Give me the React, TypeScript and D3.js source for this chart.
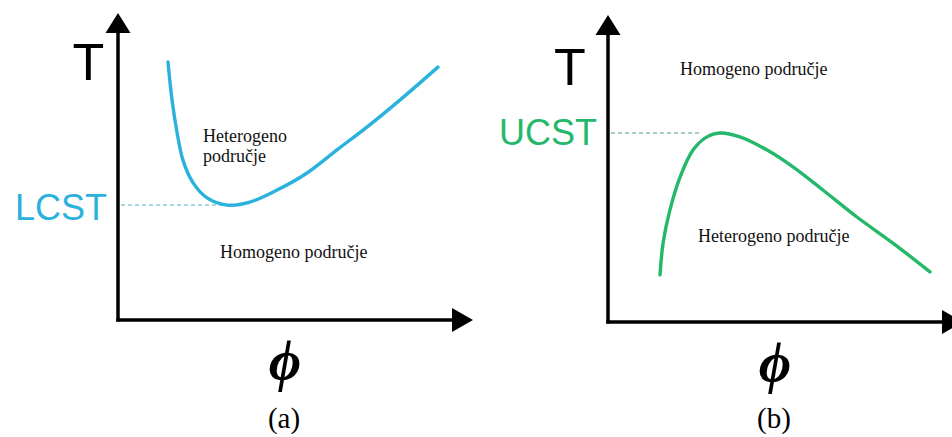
import React from "react";
import * as d3 from "d3";

// Panel (a): LCST curve, phi vs T (normalised 0..1)
const lcstPhi = [0.147, 0.159, 0.174, 0.191, 0.221, 0.262, 0.321, 0.388, 0.468, 0.556, 0.644, 0.732, 0.829, 0.941];
const lcstT = [0.86, 0.733, 0.623, 0.533, 0.457, 0.407, 0.383, 0.393, 0.433, 0.49, 0.567, 0.643, 0.733, 0.843];
const lcstValue = 0.383;
const lcstMinPhi = 0.33;

// Panel (b): UCST curve
const ucstPhi = [0.153, 0.162, 0.182, 0.212, 0.25, 0.291, 0.329, 0.388, 0.468, 0.544, 0.632, 0.732, 0.838, 0.947];
const ucstT = [0.157, 0.263, 0.373, 0.483, 0.573, 0.617, 0.63, 0.617, 0.573, 0.517, 0.44, 0.35, 0.263, 0.167];
const ucstValue = 0.63;
const ucstMaxPhi = 0.276;

const labelsA = { crit: "LCST", upper: ["Heterogeno", "područje"], lower: "Homogeno područje", tag: "(a)" };
const labelsB = { crit: "UCST", upper: ["Homogeno područje"], lower: "Heterogeno područje", tag: "(b)" };

const BLUE = "#2ab2dc";
const GREEN = "#25b86a";

type PanelProps = {
  x0: number;
  y0: number;
  phi: number[];
  t: number[];
  critT: number;
  critPhi: number;
  color: string;
  dashColor: string;
  labels: { crit: string; upper: string[]; lower: string; tag: string };
  variant: "a" | "b";
};

function Panel({ x0, y0, phi, t, critT, critPhi, color, dashColor, labels, variant }: PanelProps) {
  const x = d3.scaleLinear().domain([0, 1]).range([x0, x0 + 340]);
  const y = d3.scaleLinear().domain([0, 1]).range([y0, y0 - 300]);
  const pts: [number, number][] = phi.map((p, i) => [p, t[i]]);
  const line = d3
    .line<[number, number]>()
    .x((d) => x(d[0]))
    .y((d) => y(d[1]))
    .curve(d3.curveCatmullRom.alpha(0.5));
  const serif = "'Liberation Serif', 'Times New Roman', serif";
  const sans = "'Liberation Sans', Arial, sans-serif";
  const yTop = y0 - 307;
  const xEnd = x0 + 355;
  const tX = variant === "a" ? x0 - 29.5 : x0 - 38;
  const tY = variant === "a" ? y0 - 240 : y0 - 237;
  return (
    <g>
      {/* axes */}
      <line x1={x0} y1={y0 + 1.5} x2={x0} y2={yTop + 18} stroke="#000" strokeWidth={3.5} />
      <path d={`M${x0},${yTop} L${x0 - 12.5},${yTop + 20} L${x0 + 12.5},${yTop + 20} Z`} fill="#000" />
      <line x1={x0 - 1.75} y1={y0} x2={xEnd - 18} y2={y0} stroke="#000" strokeWidth={3.5} />
      <path d={`M${xEnd},${y0} L${xEnd - 21},${y0 - 12} L${xEnd - 21},${y0 + 12} Z`} fill="#000" />

      {/* dashed critical temperature */}
      <line
        x1={x0 + 3}
        y1={y(critT)}
        x2={x(critPhi)}
        y2={y(critT)}
        stroke={dashColor}
        strokeWidth={1.5}
        strokeDasharray="4,3"
      />
      {/* curve */}
      <path d={line(pts) ?? ""} fill="none" stroke={color} strokeWidth={3.4} strokeLinecap="round" />

      {/* axis labels */}
      <text x={tX} y={tY} fontFamily={sans} fontSize={52} textAnchor="middle" fill="#000">
        T
      </text>
      <text
        x={x0 + 167}
        y={y0 + 60}
        fontFamily={serif}
        fontSize={56}
        fontStyle="italic"
        fontWeight="bold"
        textAnchor="middle"
        fill="#000"
      >
        ϕ
      </text>
      <text x={x0 + 166} y={428} fontFamily={serif} fontSize={29} textAnchor="middle" fill="#000">
        {labels.tag}
      </text>

      {/* critical label */}
      <text
        x={x0 - 11}
        y={y(critT) + (variant === "a" ? 15 : 12)}
        fontFamily={sans}
        fontSize={36}
        textAnchor="end"
        fill={color}
      >
        {labels.crit}
      </text>

      {/* region labels */}
      {variant === "a" ? (
        <>
          <text x={x0 + 85} y={y0 - 178} fontFamily={serif} fontSize={18} fill="#111">
            {labels.upper[0]}
          </text>
          <text x={x0 + 85} y={y0 - 158} fontFamily={serif} fontSize={18} fill="#111">
            {labels.upper[1]}
          </text>
          <text x={x0 + 102} y={y0 - 62} fontFamily={serif} fontSize={18} fill="#111">
            {labels.lower}
          </text>
        </>
      ) : (
        <>
          <text x={x0 + 72} y={y0 - 247} fontFamily={serif} fontSize={18} fill="#111">
            {labels.upper[0]}
          </text>
          <text x={x0 + 90} y={y0 - 80} fontFamily={serif} fontSize={18} fill="#111">
            {labels.lower}
          </text>
        </>
      )}
    </g>
  );
}

export default function App() {
  return (
    <svg
      width={952}
      height={437}
      viewBox="0 0 952 437"
      style={{ position: "absolute", left: 0, top: 0, background: "#fff", display: "block" }}
    >
      <rect x={0} y={0} width={952} height={437} fill="#fff" />
      <Panel
        x0={118}
        y0={320}
        phi={lcstPhi}
        t={lcstT}
        critT={lcstValue}
        critPhi={lcstMinPhi}
        color={BLUE}
        dashColor="#8cc9d9"
        labels={labelsA}
        variant="a"
      />
      <Panel
        x0={608}
        y0={322}
        phi={ucstPhi}
        t={ucstT}
        critT={ucstValue}
        critPhi={ucstMaxPhi}
        color={GREEN}
        dashColor="#8fc0a4"
        labels={labelsB}
        variant="b"
      />
    </svg>
  );
}
